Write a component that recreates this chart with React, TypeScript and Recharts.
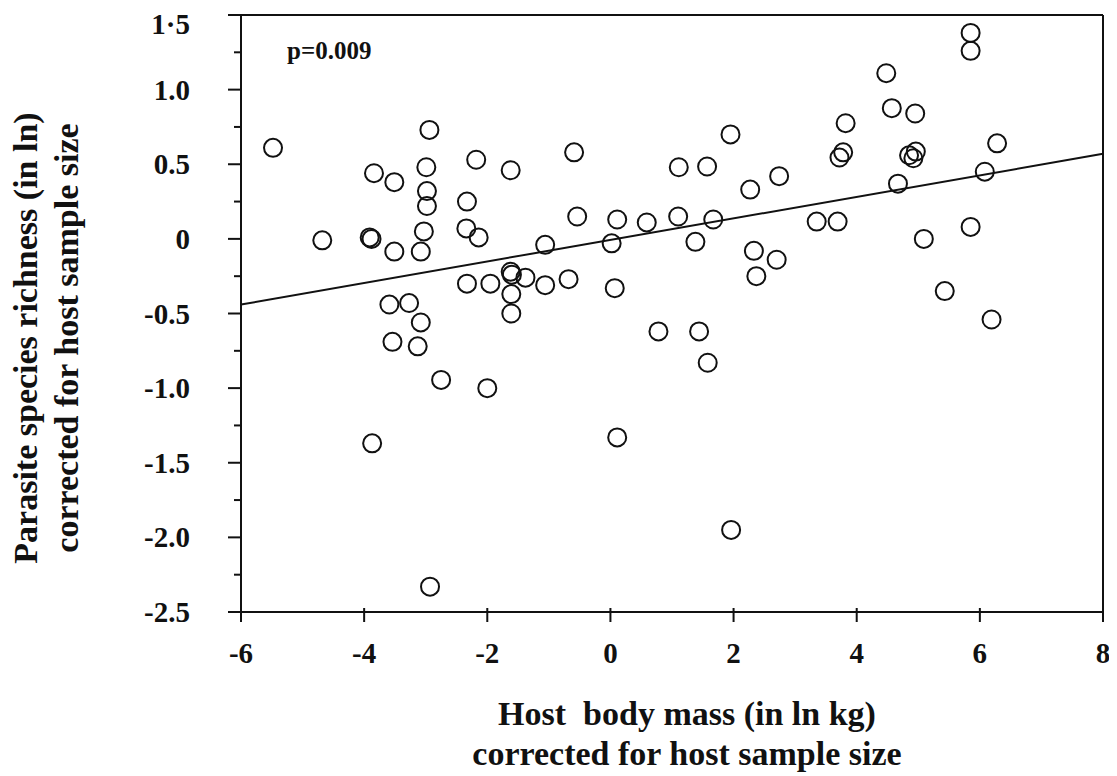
import { ReferenceLine, Scatter, ScatterChart, XAxis, YAxis, Label } from "recharts";

// host body mass (ln kg), corrected for host sample size
const hostMass = [
  -5.48, -4.68, -3.91, -3.88, -3.84, -3.87, -3.59, -3.54, -3.51, -3.51,
  -3.27, -3.13, -3.08, -3.08, -3.03, -2.98, -2.98, -2.99, -2.94, -2.93,
  -2.75, -2.34, -2.33, -2.33, -2.18, -2.14, -2.0, -1.95, -1.62, -1.62,
  -1.6, -1.61, -1.61, -1.38, -1.06, -1.06, -0.68, -0.59, -0.54, 0.02,
  0.07, 0.11, 0.11, 0.59, 0.78, 1.1, 1.11, 1.38, 1.44, 1.57,
  1.58, 1.67, 1.95, 1.96, 2.27, 2.33, 2.37, 2.7, 2.74, 3.35,
  3.69, 3.72, 3.78, 3.82, 4.48, 4.57, 4.67, 4.85, 4.92, 4.96,
  4.95, 5.09, 5.43, 5.85, 5.85, 5.85, 6.08, 6.19, 6.28,
];

// parasite species richness (ln), corrected for host sample size
const richness = [
  0.61, -0.01, 0.01, 0.0, 0.44, -1.37, -0.44, -0.69, 0.38, -0.085,
  -0.43, -0.72, -0.085, -0.56, 0.05, 0.22, 0.32, 0.48, 0.73, -2.33,
  -0.945, 0.07, 0.25, -0.3, 0.53, 0.01, -1.0, -0.3, 0.46, -0.22,
  -0.24, -0.37, -0.5, -0.26, -0.04, -0.31, -0.27, 0.58, 0.15, -0.03,
  -0.33, 0.13, -1.33, 0.11, -0.62, 0.15, 0.48, -0.02, -0.62, 0.485,
  -0.83, 0.13, 0.7, -1.95, 0.33, -0.08, -0.25, -0.14, 0.42, 0.116,
  0.116, 0.545, 0.58, 0.775, 1.11, 0.876, 0.37, 0.56, 0.54, 0.585,
  0.84, 0.0, -0.35, 1.38, 1.26, 0.08, 0.45, -0.54, 0.64,
];

const fitLine = [
  { x: -6, y: -0.44 },
  { x: 8, y: 0.57 },
];

const xTicks = [-6, -4, -2, 0, 2, 4, 6, 8];
const yTicks = [
  1.5, 1.25, 1, 0.75, 0.5, 0.25, 0, -0.25, -0.5, -0.75, -1, -1.25, -1.5,
  -1.75, -2, -2.25, -2.5,
];
const yTickLabels: Record<string, string> = {
  "1.5": "1·5",
  "1": "1.0",
  "0.5": "0.5",
  "0": "0",
  "-0.5": "-0.5",
  "-1": "-1.0",
  "-1.5": "-1.5",
  "-2": "-2.0",
  "-2.5": "-2.5",
};

const points = hostMass.map((x, i) => ({ x, y: richness[i] }));

const FONT = '"Liberation Serif", "Times New Roman", serif';
const INK = "#111";

const Ring = (props: any) => (
  <circle cx={props.cx} cy={props.cy} r={9} fill="none" stroke={INK} strokeWidth={2} />
);

// y ticks: long ticks with labels every 0.5, short ticks between
const YTick = ({ x, y, payload }: any) => {
  const label = yTickLabels[String(payload.value)];
  const major = label !== undefined;
  return (
    <g>
      <line x1={x - (major ? 13 : 7)} x2={x} y1={y} y2={y} stroke={INK} strokeWidth={2} />
      {major && (
        <text
          x={x - 51}
          y={y + (payload.value === 1.5 ? 9 : 0)}
          textAnchor="end"
          dominantBaseline="central"
          fontFamily={FONT}
          fontWeight={700}
          fontSize={29}
          fill={INK}
        >
          {label}
        </text>
      )}
    </g>
  );
};

const XTick = ({ x, y, payload }: any) => (
  <g>
    <line x1={x} x2={x} y1={y - 4} y2={y + 10} stroke={INK} strokeWidth={2} />
    <text
      x={x}
      y={y + 41}
      textAnchor="middle"
      dominantBaseline="central"
      fontFamily={FONT}
      fontWeight={700}
      fontSize={29}
      fill={INK}
    >
      {payload.value}
    </text>
  </g>
);

export default function App() {
  return (
    <div style={{ position: "relative", width: 1117, height: 776, margin: "-8px 0 0 -8px" }}>
      <ScatterChart
        width={1117}
        height={776}
        margin={{ top: 15, right: 14, bottom: 104, left: 0 }}
      >
        <XAxis
          type="number"
          dataKey="x"
          domain={[-6, 8]}
          ticks={xTicks}
          allowDataOverflow
          axisLine={{ stroke: INK, strokeWidth: 2 }}
          tickLine={false}
          tickSize={0}
          tickMargin={0}
          height={60}
          tick={<XTick />}
        >
          <Label
            content={() => (
              <g fontFamily={FONT} fontWeight={700} fontSize={34} fill={INK} textAnchor="middle">
                <text x={687} y={725} xmlSpace="preserve">Host{"\u00a0 "}body mass (in ln kg)</text>
                <text x={687} y={765}>corrected for host sample size</text>
              </g>
            )}
          />
        </XAxis>
        <YAxis
          type="number"
          dataKey="y"
          domain={[-2.5, 1.5]}
          ticks={yTicks}
          interval={0}
          allowDataOverflow
          width={241}
          axisLine={{ stroke: INK, strokeWidth: 2 }}
          tickLine={false}
          tickSize={0}
          tickMargin={0}
          tick={<YTick />}
        >
          <Label
            content={() => (
              <g fontFamily={FONT} fontWeight={700} fontSize={34} fill={INK} textAnchor="middle">
                <text x={37} y={338} transform="rotate(-90 37 338)">
                  Parasite species richness (in ln)
                </text>
                <text x={78} y={338} transform="rotate(-90 78 338)">
                  corrected for host sample size
                </text>
              </g>
            )}
          />
        </YAxis>
        <ReferenceLine y={1.5} stroke={INK} strokeWidth={2} />
        <ReferenceLine x={8} stroke={INK} strokeWidth={2} />
        <ReferenceLine segment={fitLine} stroke={INK} strokeWidth={2} />
        <Scatter data={points} shape={Ring} isAnimationActive={false} />
      </ScatterChart>
      <div
        style={{
          position: "absolute",
          left: 287,
          top: 38,
          fontFamily: FONT,
          fontSize: 25,
          fontWeight: 700,
          lineHeight: 1,
          color: INK,
        }}
      >
        p=0.009
      </div>
    </div>
  );
}
